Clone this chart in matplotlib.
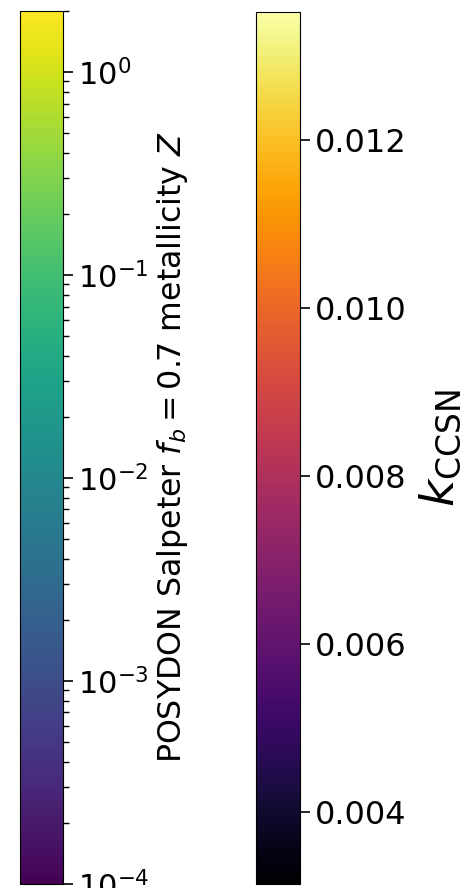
import numpy as np
import matplotlib

matplotlib.use("Agg")
import matplotlib.pyplot as plt
from matplotlib.colors import LogNorm, Normalize
from matplotlib.cm import ScalarMappable

# colour ranges
Z_RANGE = [1e-4, 2.0]
K_RANGE = [0.00314, 0.01352]
K_TICKS = [0.004, 0.006, 0.008, 0.010, 0.012]
Z_LABEL = r"POSYDON Salpeter $f_b = 0.7$ metallicity $Z$"
K_LABEL = r"$k_{\rm CCSN}$"

W, H = 467, 888
fig = plt.figure(figsize=(W / 100, H / 100), dpi=100)

# left: metallicity, log scale
cax1 = fig.add_axes([20 / W, 4 / H, 43 / W, 873 / H])
sm1 = ScalarMappable(norm=LogNorm(*Z_RANGE), cmap="viridis")
cb1 = fig.colorbar(sm1, cax=cax1)
cb1.ax.tick_params(which="major", labelsize=22, length=7, width=1.2)
cb1.ax.tick_params(which="minor", length=4, width=1.0)
cb1.set_label(Z_LABEL, fontsize=22.8, labelpad=4)

# right: k_CCSN, linear
cax2 = fig.add_axes([256 / W, 4 / H, 44 / W, 872 / H])
sm2 = ScalarMappable(norm=Normalize(*K_RANGE), cmap="inferno")
cb2 = fig.colorbar(sm2, cax=cax2, ticks=K_TICKS)
cb2.ax.set_yticklabels([f"{t:.3f}" for t in K_TICKS])
cb2.ax.tick_params(labelsize=23, length=7, width=1.2)
cb2.set_label(K_LABEL, fontsize=34, labelpad=8)

fig.savefig("out.png", dpi=100)
